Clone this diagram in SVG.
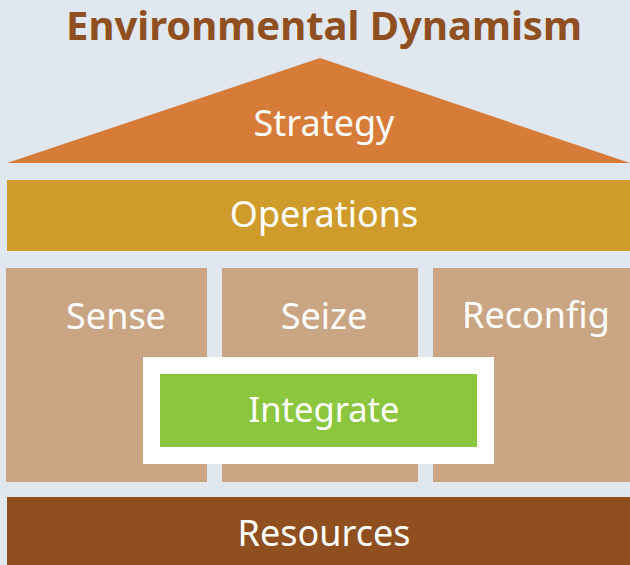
<svg xmlns="http://www.w3.org/2000/svg" width="630" height="565" viewBox="0 0 630 565">
  <style>
    .lbl { font-family: "Noto Sans", "Open Sans", sans-serif; font-size: 36px; fill: #ffffff; text-anchor: middle; }
    .title { font-family: "Noto Sans", "Open Sans", sans-serif; font-size: 40px; font-weight: bold; fill: #8f4f20; text-anchor: middle; }
    .col { fill: #c9a584; }
  </style>
  <rect x="0" y="0" width="630" height="565" fill="#e0e7ee"/>

  <text class="title" x="324" y="40">Environmental Dynamism</text>

  <g id="strategy">
    <polygon points="7,163 320,58 630,163" fill="#d77b38"/>
    <text class="lbl" x="324" y="136">Strategy</text>
  </g>

  <g id="operations">
    <rect x="7" y="180" width="623" height="71" fill="#cf9c2b"/>
    <text class="lbl" x="324" y="227">Operations</text>
  </g>

  <g id="sense">
    <rect class="col" x="6" y="268" width="201" height="214"/>
    <text class="lbl" x="116" y="329">Sense</text>
  </g>

  <g id="seize">
    <rect class="col" x="222" y="268" width="196" height="214"/>
    <text class="lbl" x="324" y="329">Seize</text>
  </g>

  <g id="reconfig">
    <rect class="col" x="433" y="268" width="197" height="214"/>
    <text class="lbl" x="536" y="328">Reconfig</text>
  </g>

  <g id="integrate">
    <rect x="143" y="357" width="351" height="107" fill="#ffffff"/>
    <rect x="160" y="374" width="317" height="73" fill="#8cc63f"/>
    <text class="lbl" x="324" y="422" style="font-size:34.5px">Integrate</text>
  </g>

  <g id="resources">
    <rect x="7" y="497" width="623" height="68" fill="#8f4f1f"/>
    <text class="lbl" x="324" y="546">Resources</text>
  </g>

  <g id="connectors"/>
</svg>
